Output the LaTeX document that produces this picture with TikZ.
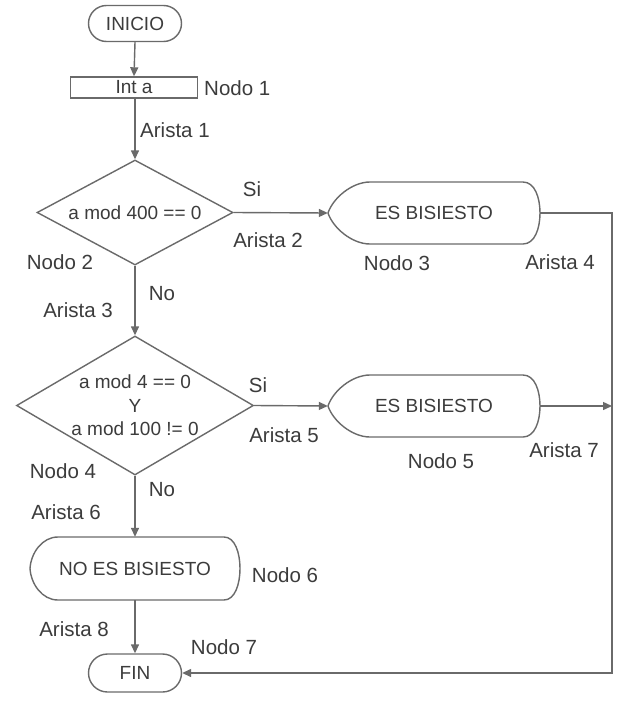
\documentclass[tikz,border=0pt]{standalone}
\usepackage{fontspec}
\setmainfont{Liberation Sans}
\usetikzlibrary{arrows.meta,shapes.geometric,shapes.misc}
\definecolor{lc}{HTML}{6A6A6A}
\definecolor{tc}{HTML}{3C3C3C}
\begin{document}
\begin{tikzpicture}[x=1pt,y=-1pt,
  line/.style={draw=lc, line width=1.4pt},
  arr/.style={line, -{Triangle[length=9pt,width=8pt]}},
  lbl/.style={text=tc, font=\fontsize{20.5}{24}\selectfont, inner sep=0pt},
  txt/.style={text=tc, font=\fontsize{19}{23.5}\selectfont, inner sep=0pt},
  term/.style={line, txt, rounded rectangle, minimum width=93pt, minimum height=36pt},
  procbox/.style={line, txt, rectangle, minimum width=127pt, minimum height=21pt},
  dia/.style={line, diamond, inner sep=0pt},
  disp/.style={txt, rectangle, draw=none, minimum width=212pt, minimum height=62pt}
]
\useasboundingbox[fill=white] (0,0) rectangle (623,704);

% terminals and process
\node[term] (ini) at (135,23.5) {INICIO};
\node[procbox] (inta) at (134,87.5) {Int a};
\node[term, minimum height=38pt] (fin) at (135,673) {FIN};

% decisions
\node[dia, minimum width=196pt, minimum height=105pt] (d1) at (135,212.5) {};
\node[txt] (d1t) at (d1.center) {a mod 400 == 0};
\node[dia, minimum width=237pt, minimum height=139pt] (d2) at (135,405.5) {};
\node[txt, align=center] (d2t) at (d2.center) {a mod 4 == 0\\Y\\a mod 100 != 0};

% display shapes
\node[disp] (n3) at (434,213) {ES BISIESTO};
\draw[line] (370,182) -- (523,182) .. controls (535,182) and (540,198) .. (540,213)
  .. controls (540,228) and (535,244) .. (523,244) -- (370,244)
  .. controls (352,244) and (333,228) .. (328,213)
  .. controls (333,198) and (352,182) .. (370,182) -- cycle;
\node[disp] (n5) at (434,406) {ES BISIESTO};
\draw[line] (370,375) -- (523,375) .. controls (535,375) and (540,391) .. (540,406)
  .. controls (540,421) and (535,437) .. (523,437) -- (370,437)
  .. controls (352,437) and (333,421) .. (328,406)
  .. controls (333,391) and (352,375) .. (370,375) -- cycle;
\node[disp, minimum width=210pt, minimum height=63pt] (n6) at (135,568.5) {NO ES BISIESTO};
\draw[line] (58,537) -- (224,537) .. controls (235,537) and (240,553) .. (240,568.5)
  .. controls (240,584) and (235,600) .. (224,600) -- (58,600)
  .. controls (42,600) and (31,584) .. (30,568.5)
  .. controls (31,553) and (42,537) .. (58,537) -- cycle;

% connectors
\coordinate (rt) at (612,213);
\draw[arr] (ini.south) -- (inta.south |- inta.north);
\draw[arr] (inta.south -| d1.north) -- (d1.north);
\draw[arr] (d1.east) -- (n3.west);
\draw[arr] (n3.east) -- (rt) |- (fin.east);
\draw[arr] (d1.south) -- (d2.north);
\draw[arr] (d2.east) -- (n5.west);
\draw[arr] (n5.east) -- (n5.east -| rt);
\draw[arr] (d2.south) -- (n6.north);
\draw[arr] (n6.south) -- (fin.north);

% labels
\node[lbl, anchor=west] (l1) at (204,88) {Nodo 1};
\node[lbl, anchor=west] (l2) at (140,130) {Arista 1};
\node[lbl] (l3) at (252,189) {Si};
\node[lbl] (l4) at (268,240) {Arista 2};
\node[lbl] (l5) at (60,262) {Nodo 2};
\node[lbl] (l6) at (397,263) {Nodo 3};
\node[lbl] (l7) at (560,262) {Arista 4};
\node[lbl] (l8) at (162,294) {No};
\node[lbl] (l9) at (78,310) {Arista 3};
\node[lbl] (l10) at (258,385) {Si};
\node[lbl] (l11) at (284,435) {Arista 5};
\node[lbl] (l12) at (63,471) {Nodo 4};
\node[lbl] (l13) at (441,461) {Nodo 5};
\node[lbl] (l14) at (564,450) {Arista 7};
\node[lbl] (l15) at (162,490) {No};
\node[lbl] (l16) at (66,512) {Arista 6};
\node[lbl] (l17) at (285,575) {Nodo 6};
\node[lbl] (l18) at (74,629) {Arista 8};
\node[lbl] (l19) at (224,647) {Nodo 7};
\end{tikzpicture}
\end{document}
